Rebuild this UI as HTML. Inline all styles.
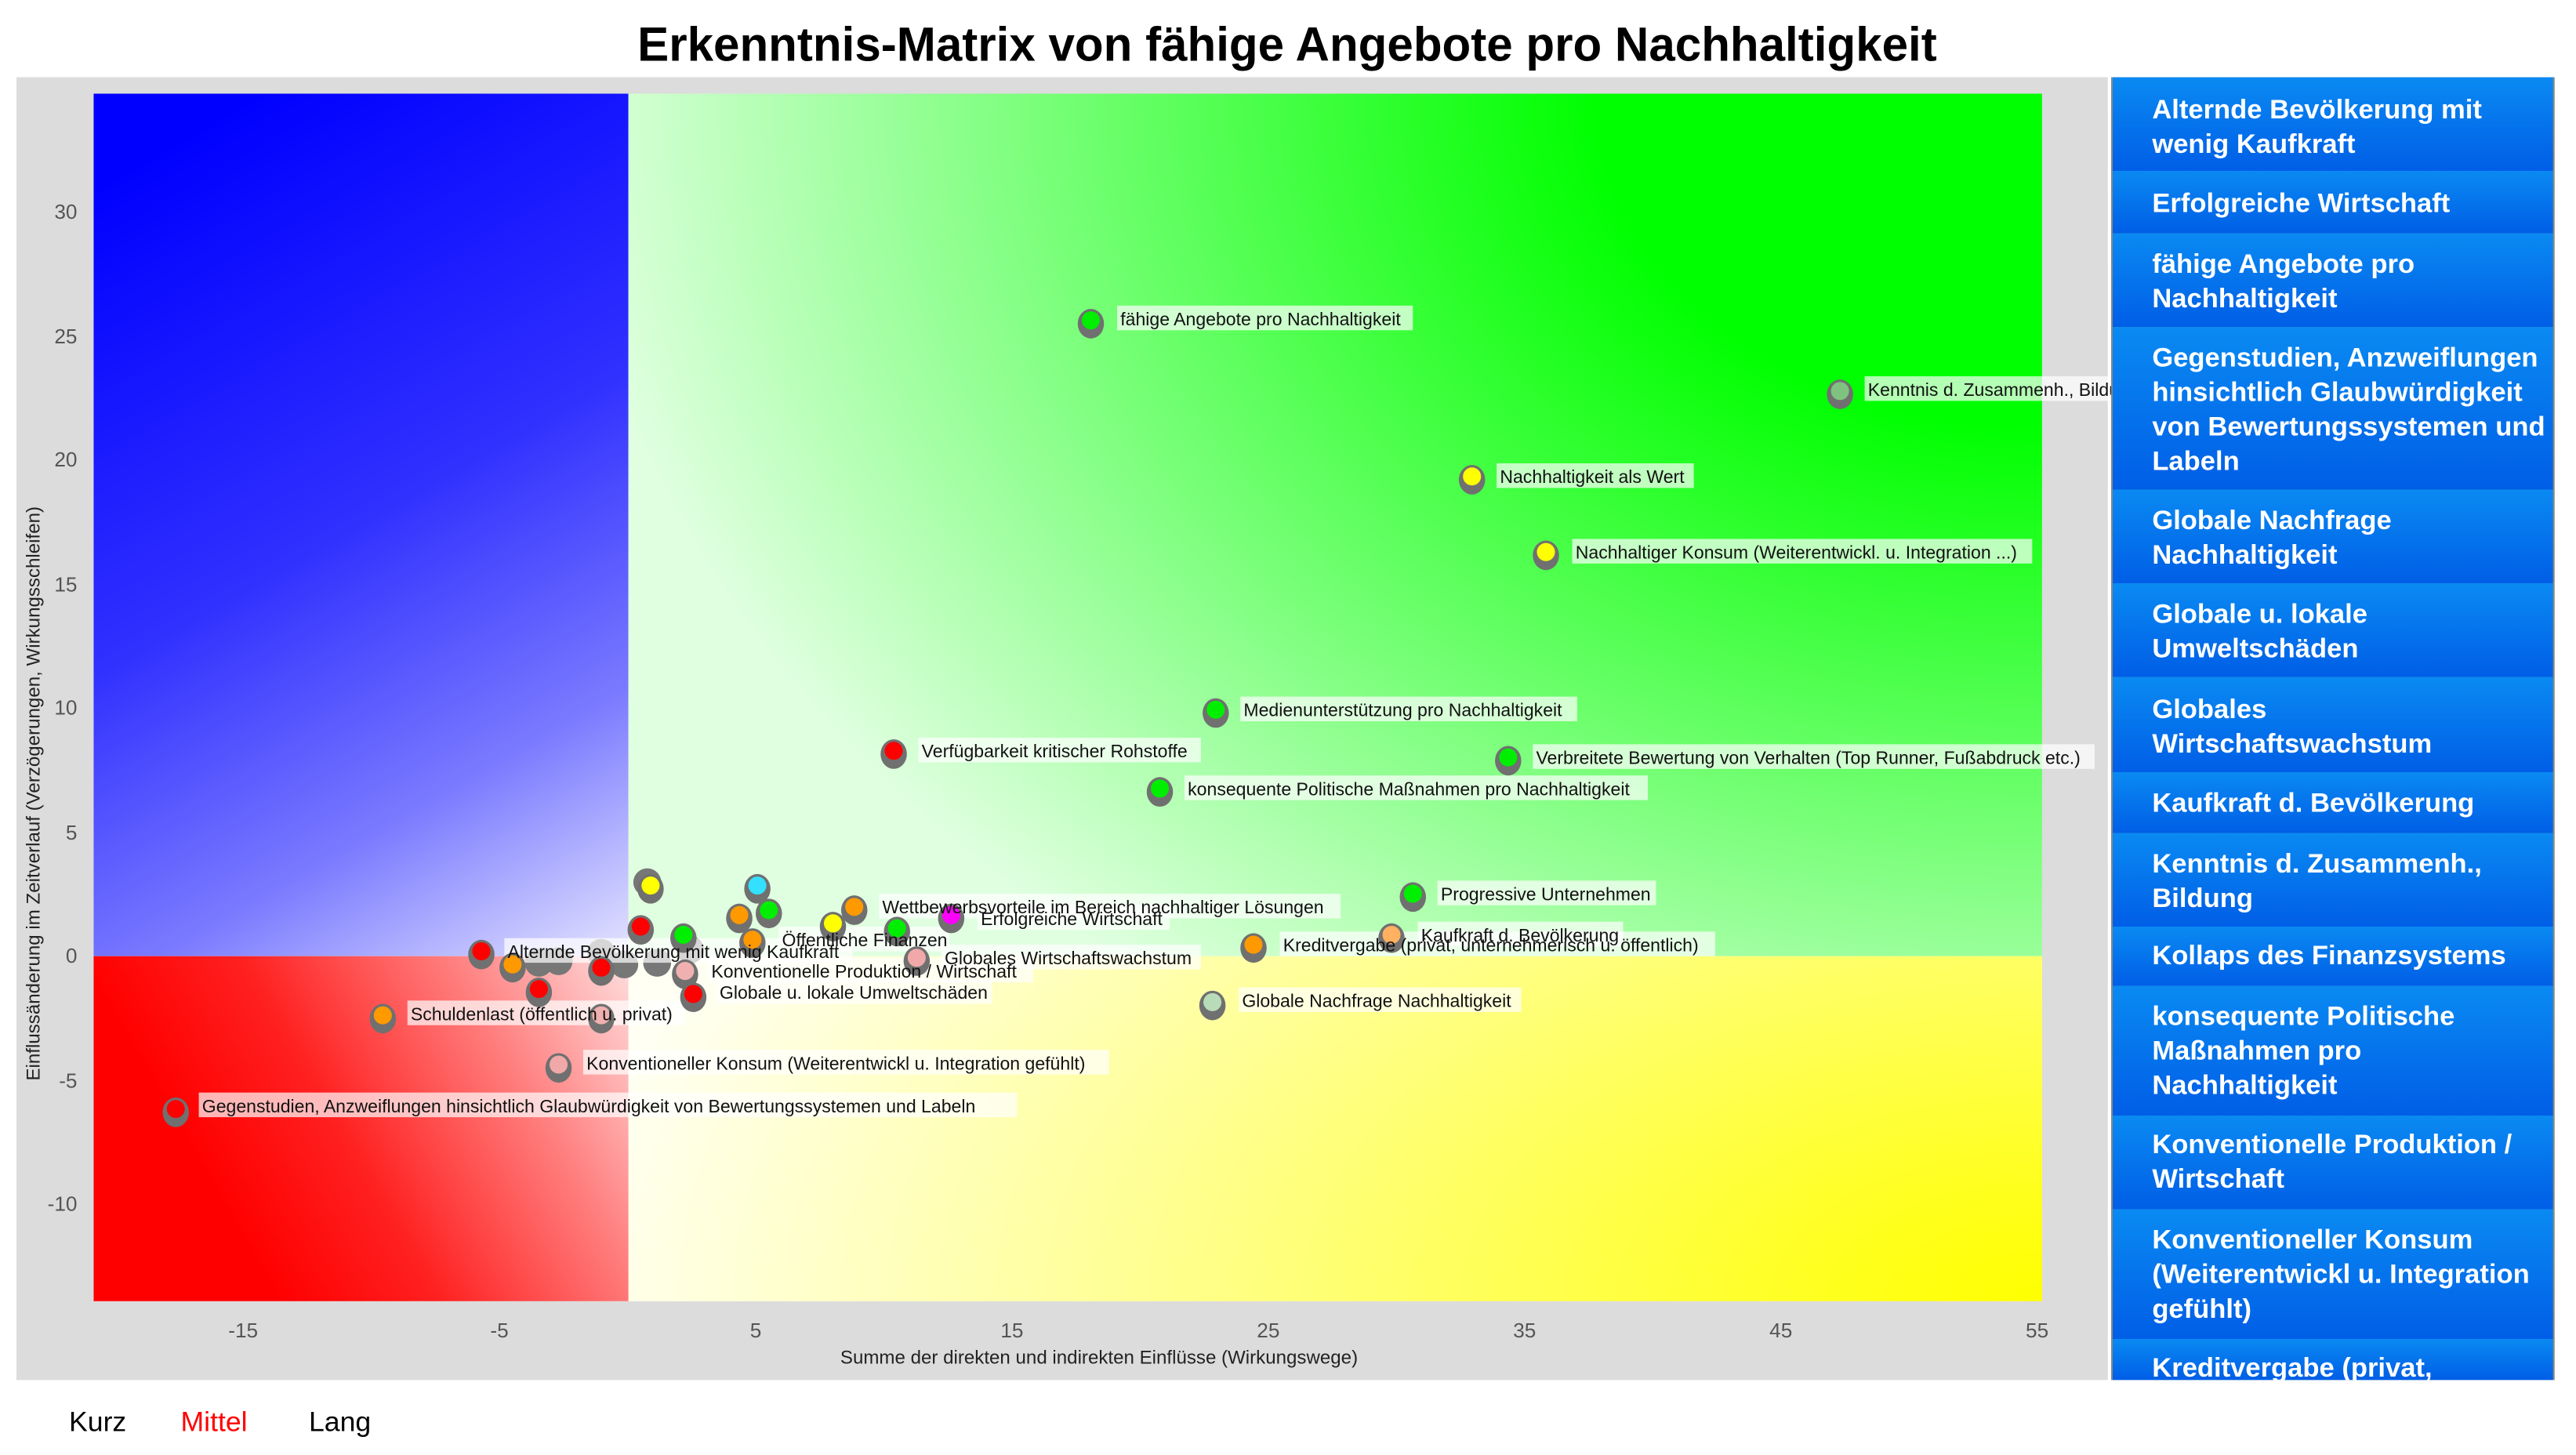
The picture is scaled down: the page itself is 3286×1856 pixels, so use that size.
<!DOCTYPE html>
<html><head><meta charset="utf-8"><style>html,body{margin:0;padding:0;background:#fff}svg{display:block}</style></head>
<body>
<svg width="3286" height="1856" viewBox="0 0 1568 885.6" xmlns="http://www.w3.org/2000/svg" font-family="Liberation Sans, sans-serif">
<defs>
<linearGradient id="gB" gradientUnits="userSpaceOnUse" x1="100" y1="90" x2="382" y2="582">
<stop offset="0" stop-color="#0000ff"/><stop offset="0.45" stop-color="#3030ff"/><stop offset="0.75" stop-color="#7a7aff"/><stop offset="1" stop-color="#e4e4ff"/></linearGradient>
<radialGradient id="gG" gradientUnits="userSpaceOnUse" cx="1243" cy="57" r="900" gradientTransform="translate(1243 57) scale(1 0.75) translate(-1243 -57)">
<stop offset="0" stop-color="#00ff00"/><stop offset="0.3" stop-color="#00ff00"/><stop offset="0.65" stop-color="#70ff70"/><stop offset="1" stop-color="#e0ffe0"/></radialGradient>
<radialGradient id="gY" gradientUnits="userSpaceOnUse" cx="1243" cy="792" r="900" gradientTransform="translate(1243 792) scale(1 0.55) translate(-1243 -792)">
<stop offset="0" stop-color="#ffff00"/><stop offset="0.15" stop-color="#ffff20"/><stop offset="0.6" stop-color="#ffff90"/><stop offset="1" stop-color="#fffff4"/></radialGradient>
<linearGradient id="gR" gradientUnits="userSpaceOnUse" x1="140" y1="740" x2="382" y2="600">
<stop offset="0" stop-color="#ff0000"/><stop offset="0.3" stop-color="#ff2020"/><stop offset="0.7" stop-color="#ff8080"/><stop offset="1" stop-color="#ffd4d4"/></linearGradient>
<linearGradient id="sb" x1="0" y1="0" x2="0" y2="1"><stop offset="0" stop-color="#0a8af2"/><stop offset="1" stop-color="#005ee6"/></linearGradient>
</defs>
<text x="783.5" y="37" text-anchor="middle" font-size="29" font-weight="bold" textLength="791" lengthAdjust="spacingAndGlyphs">Erkenntnis-Matrix von fähige Angebote pro Nachhaltigkeit</text>
<rect x="10" y="47" width="1273" height="793" fill="#dcdcdc"/>
<rect x="57" y="57" width="1186" height="735" fill="#fff"/>
<rect x="57" y="57" width="325.5" height="525" fill="url(#gB)"/>
<rect x="382.5" y="57" width="860.5" height="525" fill="url(#gG)"/>
<rect x="382.5" y="582" width="860.5" height="210" fill="url(#gY)"/>
<rect x="57" y="582" width="325.5" height="210" fill="url(#gR)"/>
<g font-size="12.5" fill="#555" text-anchor="end">
<text x="47" y="133">30</text><text x="47" y="209">25</text><text x="47" y="284">20</text><text x="47" y="360">15</text><text x="47" y="435">10</text><text x="47" y="511">5</text><text x="47" y="586">0</text><text x="47" y="662">-5</text><text x="47" y="737">-10</text>
</g>
<g font-size="12.5" fill="#555" text-anchor="middle">
<text x="148" y="814">-15</text><text x="304" y="814">-5</text><text x="460" y="814">5</text><text x="616" y="814">15</text><text x="772" y="814">25</text><text x="928" y="814">35</text><text x="1084" y="814">45</text><text x="1240" y="814">55</text>
</g>
<text x="669" y="830" font-size="11.5" text-anchor="middle" fill="#222">Summe der direkten und indirekten Einflüsse (Wirkungswege)</text>
<text transform="translate(24 483) rotate(-90)" font-size="11.5" text-anchor="middle" fill="#222">Einflussänderung im Zeitverlauf (Verzögerungen, Wirkungsschleifen)</text>
<g fill="#777"><circle cx="394" cy="537" r="8.5"/><circle cx="366" cy="580" r="8.5"/><circle cx="328" cy="586" r="8.5"/><circle cx="380" cy="587" r="8.5"/><circle cx="340" cy="585" r="8.5"/><circle cx="400" cy="586" r="8.5"/><circle cx="420" cy="578" r="8.5"/></g>
<g fill="#fff" fill-opacity="0.7">
<rect x="680" y="186" width="180" height="15"/>
<rect x="1135" y="229" width="150" height="15"/>
<rect x="911" y="282" width="120" height="15"/>
<rect x="957" y="328" width="280" height="15"/>
<rect x="755" y="424" width="205" height="15"/>
<rect x="559" y="449" width="172" height="15"/>
<rect x="933" y="453" width="342" height="15"/>
<rect x="721" y="472" width="282" height="15"/>
<rect x="875" y="536" width="133" height="15"/>
<rect x="535" y="544" width="281" height="15"/>
<rect x="595" y="551" width="117" height="15"/>
<rect x="779" y="567" width="265" height="15"/>
<rect x="863" y="561" width="125" height="15"/>
<rect x="754" y="601" width="172" height="15"/>
<rect x="573" y="575" width="158" height="15"/>
<rect x="474" y="564" width="104" height="15"/>
<rect x="431" y="583" width="198" height="15"/>
<rect x="436" y="596" width="168" height="15"/>
<rect x="307" y="571" width="212" height="15"/>
<rect x="248" y="609" width="169" height="15"/>
<rect x="355" y="639" width="320" height="15"/>
<rect x="121" y="665" width="498" height="15"/>
</g>
<g>
<g fill="#707070">
<ellipse cx="664" cy="197" rx="8" ry="9"/><ellipse cx="1120" cy="240" rx="8" ry="9"/><ellipse cx="896" cy="292" rx="8" ry="9"/><ellipse cx="941" cy="338" rx="8" ry="9"/><ellipse cx="740" cy="434" rx="8" ry="9"/><ellipse cx="544" cy="459" rx="8" ry="9"/><ellipse cx="918" cy="463" rx="8" ry="9"/><ellipse cx="706" cy="482" rx="8" ry="9"/><ellipse cx="860" cy="546" rx="8" ry="9"/><ellipse cx="520" cy="554" rx="8" ry="9"/><ellipse cx="579" cy="559" rx="8" ry="9"/><ellipse cx="763" cy="577" rx="8" ry="9"/><ellipse cx="847" cy="571" rx="8" ry="9"/><ellipse cx="738" cy="612" rx="8" ry="9"/><ellipse cx="558" cy="585" rx="8" ry="9"/><ellipse cx="458" cy="574" rx="8" ry="9"/><ellipse cx="417" cy="593" rx="8" ry="9"/><ellipse cx="422" cy="607" rx="8" ry="9"/><ellipse cx="293" cy="581" rx="8" ry="9"/><ellipse cx="233" cy="620" rx="8" ry="9"/><ellipse cx="340" cy="650" rx="8" ry="9"/><ellipse cx="107" cy="677" rx="8" ry="9"/>
<ellipse cx="396" cy="541" rx="8" ry="9"/><ellipse cx="461" cy="541" rx="8" ry="9"/><ellipse cx="450" cy="559" rx="8" ry="9"/><ellipse cx="468" cy="556" rx="8" ry="9"/><ellipse cx="507" cy="564" rx="8" ry="9"/><ellipse cx="546" cy="567" rx="8" ry="9"/><ellipse cx="390" cy="566" rx="8" ry="9"/><ellipse cx="416" cy="571" rx="8" ry="9"/><ellipse cx="328" cy="604" rx="8" ry="9"/><ellipse cx="312" cy="589" rx="8" ry="9"/><ellipse cx="366" cy="620" rx="8" ry="9"/><ellipse cx="366" cy="591" rx="8" ry="9"/>
</g>
<g>
<circle cx="664" cy="195" r="5.5" fill="#00ee00"/><circle cx="1120" cy="238" r="5.5" fill="#7fc27f"/><circle cx="896" cy="290" r="5.5" fill="#ffff00"/><circle cx="941" cy="336" r="5.5" fill="#ffff00"/><circle cx="740" cy="432" r="5.5" fill="#00ee00"/><circle cx="544" cy="457" r="5.5" fill="#ff0000"/><circle cx="918" cy="461" r="5.5" fill="#00ee00"/><circle cx="706" cy="480" r="5.5" fill="#00ee00"/><circle cx="860" cy="544" r="5.5" fill="#00ee00"/><circle cx="520" cy="552" r="5.5" fill="#ff9900"/><circle cx="579" cy="557" r="5.5" fill="#ff00ff"/><circle cx="763" cy="575" r="5.5" fill="#ff9900"/><circle cx="847" cy="569" r="5.5" fill="#ffb060"/><circle cx="738" cy="610" r="5.5" fill="#b8dcb8"/><circle cx="558" cy="583" r="5.5" fill="#f0a8a8"/><circle cx="458" cy="572" r="5.5" fill="#ff9900"/><circle cx="417" cy="591" r="5.5" fill="#f0b0b0"/><circle cx="422" cy="605" r="5.5" fill="#ff0000"/><circle cx="293" cy="579" r="5.5" fill="#ff0000"/><circle cx="233" cy="618" r="5.5" fill="#ff9900"/><circle cx="340" cy="648" r="5.5" fill="#f0a8a8"/><circle cx="107" cy="675" r="5.5" fill="#ff0000"/>
<circle cx="396" cy="539" r="5.5" fill="#ffff00"/><circle cx="461" cy="539" r="5.5" fill="#33e0ff"/><circle cx="450" cy="557" r="5.5" fill="#ff9900"/><circle cx="468" cy="554" r="5.5" fill="#00ee00"/><circle cx="507" cy="562" r="5.5" fill="#ffff00"/><circle cx="546" cy="565" r="5.5" fill="#00ee00"/><circle cx="390" cy="564" r="5.5" fill="#ff0000"/><circle cx="416" cy="569" r="5.5" fill="#00ee00"/><circle cx="328" cy="602" r="5.5" fill="#ff0000"/><circle cx="312" cy="587" r="5.5" fill="#ff9900"/><circle cx="366" cy="618" r="5.5" fill="#f0b0b0"/><circle cx="366" cy="589" r="5.5" fill="#ff0000"/>
</g>
</g>
<g font-size="11" fill="#111">
<text x="682" y="198">fähige Angebote pro Nachhaltigkeit</text>
<text x="1137" y="241">Kenntnis d. Zusammenh., Bildung</text>
<text x="913" y="294">Nachhaltigkeit als Wert</text>
<text x="959" y="340">Nachhaltiger Konsum (Weiterentwickl. u. Integration ...)</text>
<text x="757" y="436">Medienunterstützung pro Nachhaltigkeit</text>
<text x="561" y="461">Verfügbarkeit kritischer Rohstoffe</text>
<text x="935" y="465">Verbreitete Bewertung von Verhalten (Top Runner, Fußabdruck etc.)</text>
<text x="723" y="484">konsequente Politische Maßnahmen pro Nachhaltigkeit</text>
<text x="877" y="548">Progressive Unternehmen</text>
<text x="537" y="556">Wettbewerbsvorteile im Bereich nachhaltiger Lösungen</text>
<text x="597" y="563">Erfolgreiche Wirtschaft</text>
<text x="781" y="579">Kreditvergabe (privat, unternehmerisch u. öffentlich)</text>
<text x="865" y="573">Kaufkraft d. Bevölkerung</text>
<text x="756" y="613">Globale Nachfrage Nachhaltigkeit</text>
<text x="575" y="587">Globales Wirtschaftswachstum</text>
<text x="476" y="576">Öffentliche Finanzen</text>
<text x="433" y="595">Konventionelle Produktion / Wirtschaft</text>
<text x="438" y="608">Globale u. lokale Umweltschäden</text>
<text x="309" y="583">Alternde Bevölkerung mit wenig Kaufkraft</text>
<text x="250" y="621">Schuldenlast (öffentlich u. privat)</text>
<text x="357" y="651">Konventioneller Konsum (Weiterentwickl u. Integration gefühlt)</text>
<text x="123" y="677">Gegenstudien, Anzweiflungen hinsichtlich Glaubwürdigkeit von Bewertungssystemen und Labeln</text>
</g>
<rect x="1285" y="47" width="270" height="793" fill="#888"/>
<g fill="url(#sb)">
<rect x="1286" y="47" width="268" height="57"/><rect x="1286" y="104" width="268" height="38"/><rect x="1286" y="142" width="268" height="57"/><rect x="1286" y="199" width="268" height="99"/><rect x="1286" y="298" width="268" height="57"/><rect x="1286" y="355" width="268" height="57"/><rect x="1286" y="412" width="268" height="58"/><rect x="1286" y="470" width="268" height="37"/><rect x="1286" y="507" width="268" height="57"/><rect x="1286" y="564" width="268" height="36"/><rect x="1286" y="600" width="268" height="79"/><rect x="1286" y="679" width="268" height="57"/><rect x="1286" y="736" width="268" height="79"/><rect x="1286" y="815" width="268" height="25"/>
</g>
<g font-size="16.5" fill="#fff" font-weight="bold">
<text x="1310" y="72">Alternde Bevölkerung mit</text><text x="1310" y="93">wenig Kaufkraft</text>
<text x="1310" y="129">Erfolgreiche Wirtschaft</text>
<text x="1310" y="166">fähige Angebote pro</text><text x="1310" y="187">Nachhaltigkeit</text>
<text x="1310" y="223">Gegenstudien, Anzweiflungen</text><text x="1310" y="244">hinsichtlich Glaubwürdigkeit</text><text x="1310" y="265">von Bewertungssystemen und</text><text x="1310" y="286">Labeln</text>
<text x="1310" y="322">Globale Nachfrage</text><text x="1310" y="343">Nachhaltigkeit</text>
<text x="1310" y="379">Globale u. lokale</text><text x="1310" y="400">Umweltschäden</text>
<text x="1310" y="437">Globales</text><text x="1310" y="458">Wirtschaftswachstum</text>
<text x="1310" y="494">Kaufkraft d. Bevölkerung</text>
<text x="1310" y="531">Kenntnis d. Zusammenh.,</text><text x="1310" y="552">Bildung</text>
<text x="1310" y="587">Kollaps des Finanzsystems</text>
<text x="1310" y="624">konsequente Politische</text><text x="1310" y="645">Maßnahmen pro</text><text x="1310" y="666">Nachhaltigkeit</text>
<text x="1310" y="702">Konventionelle Produktion /</text><text x="1310" y="723">Wirtschaft</text>
<text x="1310" y="760">Konventioneller Konsum</text><text x="1310" y="781">(Weiterentwickl u. Integration</text><text x="1310" y="802">gefühlt)</text>
</g>
<rect x="1286" y="840" width="270" height="46" fill="#fff"/>
<svg x="1286" y="815" width="268" height="25" overflow="hidden"><text x="24" y="23" font-size="16.5" fill="#fff" font-weight="bold">Kreditvergabe (privat,</text></svg>
<g font-size="17">
<text x="42" y="871">Kurz</text><text x="110" y="871" fill="#ff0000">Mittel</text><text x="188" y="871">Lang</text>
</g>
</svg>
</body></html>
